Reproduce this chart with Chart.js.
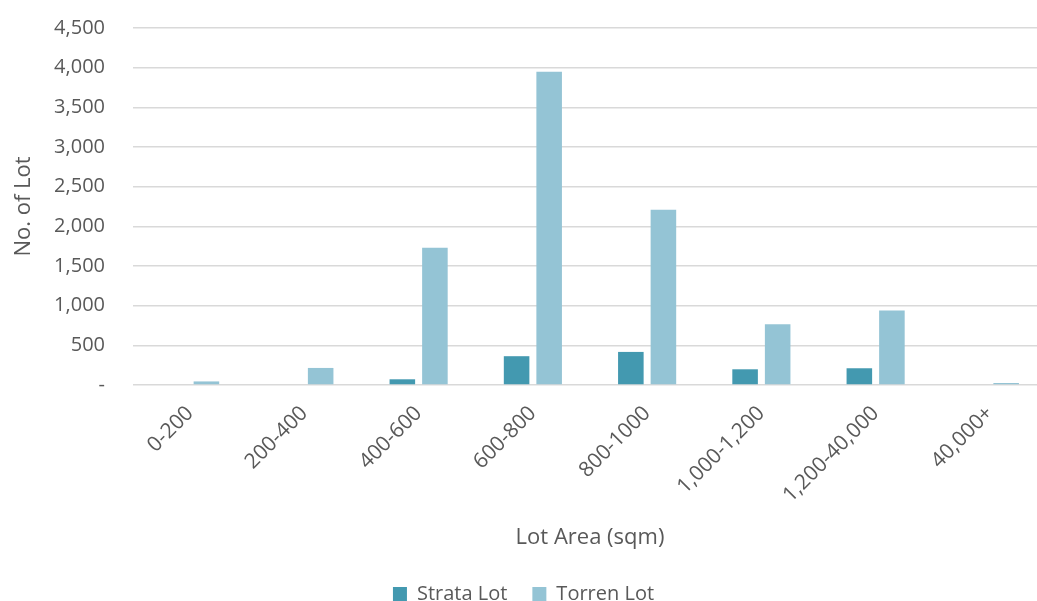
<!DOCTYPE html>
<html>
<head>
<meta charset="utf-8">
<script src="https://cdn.jsdelivr.net/npm/chart.js@4/dist/chart.umd.min.js"></script>
<style>
  html, body { margin: 0; padding: 0; background: #ffffff; overflow: hidden; }
  #wrap { width: 1049px; height: 601px; }
</style>
</head>
<body>
<div id="wrap"><canvas id="chart" width="1049" height="601"></canvas></div>
<script>
// Lot counts by lot-area band
const categories = ['0-200', '200-400', '400-600', '600-800', '800-1000', '1,000-1,200', '1,200-40,000', '40,000+'];
const strataLots = [0, 0, 72, 363, 417, 198, 211, 0];
const torrenLots = [45, 215, 1730, 3950, 2210, 765, 940, 25];

// Y axis ticks and their printed labels
const yTickValues = [0, 500, 1000, 1500, 2000, 2500, 3000, 3500, 4000, 4500];
const yTickLabels = ['-', '500', '1,000', '1,500', '2,000', '2,500', '3,000', '3,500', '4,000', '4,500'];

const FONT = "'Open Sans', 'Noto Sans', sans-serif";
const TEXT = '#595959';

new Chart(document.getElementById('chart'), {
  type: 'bar',
  data: {
    labels: categories,
    datasets: [
      { label: 'Strata Lot', data: strataLots, backgroundColor: '#4399b0' },
      { label: 'Torren Lot', data: torrenLots, backgroundColor: '#94c4d5' }
    ]
  },
  options: {
    responsive: false,
    animation: false,
    layout: { padding: { top: 28, left: 0, right: 2, bottom: -13 } },
    datasets: { bar: { categoryPercentage: 0.57, barPercentage: 0.785 } },
    plugins: {
      tooltip: { enabled: false },
      legend: {
        position: 'bottom',
        labels: {
          font: { family: FONT, size: 20 },
          color: TEXT,
          boxWidth: 14,
          boxHeight: 14,
          padding: 25
        }
      }
    },
    scales: {
      x: {
        grid: { display: false },
        border: { display: false },
        ticks: {
          font: { family: FONT, size: 21 },
          color: TEXT,
          minRotation: 45,
          maxRotation: 45,
          autoSkip: false,
          padding: 8
        },
        title: {
          display: true,
          text: 'Lot Area (sqm)',
          font: { family: FONT, size: 22 },
          color: TEXT,
          padding: { top: 0, bottom: 8 }
        },
        afterFit: (s) => { s.height = 174; }
      },
      y: {
        min: 0,
        max: 4500,
        afterBuildTicks: (s) => { s.ticks = yTickValues.map(v => ({ value: v })); },
        grid: {
          color: '#d9d9d9',
          lineWidth: 1.5,
          drawTicks: true,
          tickLength: 28,
          tickColor: 'rgba(0,0,0,0)'
        },
        border: { display: false },
        ticks: {
          font: { family: FONT, size: 20 },
          color: TEXT,
          padding: 0,
          callback: (v) => yTickLabels[yTickValues.indexOf(v)]
        },
        title: {
          display: true,
          text: 'No. of Lot',
          font: { family: FONT, size: 22 },
          color: TEXT,
          padding: { top: 11, bottom: 0 }
        },
        afterFit: (s) => { s.width = 133; }
      }
    }
  }
});
</script>
</body>
</html>
